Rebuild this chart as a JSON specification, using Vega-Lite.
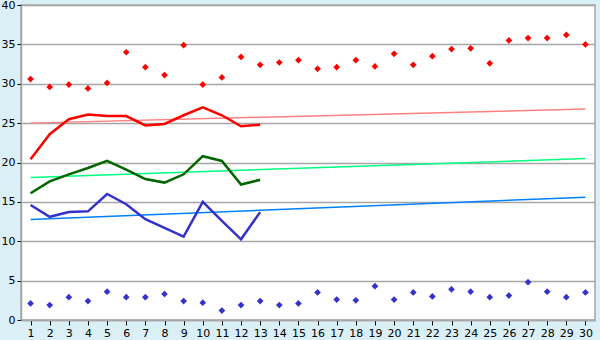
{
  "$schema": "https://vega.github.io/schema/vega-lite/v6.json",
  "width": 574,
  "height": 315,
  "autosize": {"type": "none"},
  "padding": {"left": 21, "top": 5, "right": 5, "bottom": 20},
  "background": "#daeff6",
  "config": {
    "view": {"stroke": "#a6a6a6", "strokeWidth": 1.5, "fill": "white"},
    "axis": {"labelFont": "DejaVu Sans", "labelFontSize": 11, "labelColor": "black", "title": null}
  },
  "datasets": {
    "pts": [
      {"day": 1, "hi": 30.6, "lo": 2.1}, {"day": 2, "hi": 29.6, "lo": 1.9}, {"day": 3, "hi": 29.9, "lo": 2.9},
      {"day": 4, "hi": 29.4, "lo": 2.4}, {"day": 5, "hi": 30.1, "lo": 3.6}, {"day": 6, "hi": 34.0, "lo": 2.9},
      {"day": 7, "hi": 32.1, "lo": 2.9}, {"day": 8, "hi": 31.1, "lo": 3.3}, {"day": 9, "hi": 34.9, "lo": 2.4},
      {"day": 10, "hi": 29.9, "lo": 2.2}, {"day": 11, "hi": 30.8, "lo": 1.2}, {"day": 12, "hi": 33.4, "lo": 1.9},
      {"day": 13, "hi": 32.4, "lo": 2.4}, {"day": 14, "hi": 32.7, "lo": 1.9}, {"day": 15, "hi": 33.0, "lo": 2.1},
      {"day": 16, "hi": 31.9, "lo": 3.5}, {"day": 17, "hi": 32.1, "lo": 2.6}, {"day": 18, "hi": 33.0, "lo": 2.5},
      {"day": 19, "hi": 32.2, "lo": 4.3}, {"day": 20, "hi": 33.8, "lo": 2.6}, {"day": 21, "hi": 32.4, "lo": 3.5},
      {"day": 22, "hi": 33.5, "lo": 3.0}, {"day": 23, "hi": 34.4, "lo": 3.9}, {"day": 24, "hi": 34.5, "lo": 3.6},
      {"day": 25, "hi": 32.6, "lo": 2.9}, {"day": 26, "hi": 35.5, "lo": 3.1}, {"day": 27, "hi": 35.8, "lo": 4.8},
      {"day": 28, "hi": 35.8, "lo": 3.6}, {"day": 29, "hi": 36.2, "lo": 2.9}, {"day": 30, "hi": 35.0, "lo": 3.5}
    ],
    "lines": [
      {"day": 1, "s": "red", "v": 20.4}, {"day": 2, "s": "red", "v": 23.6}, {"day": 3, "s": "red", "v": 25.5},
      {"day": 4, "s": "red", "v": 26.1}, {"day": 5, "s": "red", "v": 25.9}, {"day": 6, "s": "red", "v": 25.9},
      {"day": 7, "s": "red", "v": 24.7}, {"day": 8, "s": "red", "v": 24.9}, {"day": 9, "s": "red", "v": 26.0},
      {"day": 10, "s": "red", "v": 27.0}, {"day": 11, "s": "red", "v": 26.0}, {"day": 12, "s": "red", "v": 24.6},
      {"day": 13, "s": "red", "v": 24.8},
      {"day": 1, "s": "green", "v": 16.1}, {"day": 2, "s": "green", "v": 17.6}, {"day": 3, "s": "green", "v": 18.5},
      {"day": 4, "s": "green", "v": 19.3}, {"day": 5, "s": "green", "v": 20.2}, {"day": 6, "s": "green", "v": 19.1},
      {"day": 7, "s": "green", "v": 17.9}, {"day": 8, "s": "green", "v": 17.45}, {"day": 9, "s": "green", "v": 18.5},
      {"day": 10, "s": "green", "v": 20.8}, {"day": 11, "s": "green", "v": 20.2}, {"day": 12, "s": "green", "v": 17.2},
      {"day": 13, "s": "green", "v": 17.8},
      {"day": 1, "s": "blue", "v": 14.6}, {"day": 2, "s": "blue", "v": 13.1}, {"day": 3, "s": "blue", "v": 13.7},
      {"day": 4, "s": "blue", "v": 13.8}, {"day": 5, "s": "blue", "v": 16.0}, {"day": 6, "s": "blue", "v": 14.7},
      {"day": 7, "s": "blue", "v": 12.8}, {"day": 8, "s": "blue", "v": 11.7}, {"day": 9, "s": "blue", "v": 10.6},
      {"day": 10, "s": "blue", "v": 15.0}, {"day": 11, "s": "blue", "v": 12.6}, {"day": 12, "s": "blue", "v": 10.25},
      {"day": 13, "s": "blue", "v": 13.7}
    ],
    "trend": [
      {"day": 1, "s": "redT", "v": 25.0}, {"day": 30, "s": "redT", "v": 26.8},
      {"day": 1, "s": "greenT", "v": 18.1}, {"day": 30, "s": "greenT", "v": 20.5},
      {"day": 1, "s": "blueT", "v": 12.75}, {"day": 30, "s": "blueT", "v": 15.6}
    ]
  },
  "encoding": {
    "x": {
      "type": "quantitative",
      "scale": {"domain": [0.5, 30.5], "nice": false, "zero": false},
      "axis": {
        "values": [1,2,3,4,5,6,7,8,9,10,11,12,13,14,15,16,17,18,19,20,21,22,23,24,25,26,27,28,29,30],
        "format": "d", "grid": false, "domainColor": "#a6a6a6", "domainWidth": 1.5,
        "tickColor": "black", "tickSize": 5, "labelPadding": 2
      }
    },
    "y": {
      "type": "quantitative",
      "scale": {"domain": [0, 40], "nice": false},
      "axis": {
        "values": [0, 5, 10, 15, 20, 25, 30, 35, 40],
        "grid": true, "gridColor": "#a6a6a6", "gridWidth": 1.5, "gridOpacity": 1,
        "domainColor": "#a6a6a6", "domainWidth": 1.5,
        "tickColor": "black", "tickSize": 4, "labelPadding": 2
      }
    }
  },
  "layer": [
    {
      "data": {"name": "trend"},
      "mark": {"type": "line", "strokeWidth": 1.5},
      "encoding": {
        "x": {"field": "day", "type": "quantitative"},
        "y": {"field": "v", "type": "quantitative"},
        "detail": {"field": "s"},
        "color": {"field": "s", "type": "nominal", "legend": null,
          "scale": {"domain": ["redT", "greenT", "blueT"], "range": ["#ff8080", "#00ff80", "#0080ff"]}}
      }
    },
    {
      "data": {"name": "lines"},
      "mark": {"type": "line", "strokeWidth": 2.5},
      "encoding": {
        "x": {"field": "day", "type": "quantitative"},
        "y": {"field": "v", "type": "quantitative"},
        "detail": {"field": "s"},
        "stroke": {"field": "s", "type": "nominal", "legend": null,
          "scale": {"domain": ["red", "green", "blue"], "range": ["#ff0000", "#006600", "#3333cc"]}}
      }
    },
    {
      "data": {"name": "pts"},
      "mark": {"type": "point", "shape": "diamond", "filled": true, "size": 45, "color": "#ff0000", "opacity": 1},
      "encoding": {
        "x": {"field": "day", "type": "quantitative"},
        "y": {"field": "hi", "type": "quantitative"}
      }
    },
    {
      "data": {"name": "pts"},
      "mark": {"type": "point", "shape": "diamond", "filled": true, "size": 45, "color": "#3333cc", "opacity": 1},
      "encoding": {
        "x": {"field": "day", "type": "quantitative"},
        "y": {"field": "lo", "type": "quantitative"}
      }
    }
  ]
}
